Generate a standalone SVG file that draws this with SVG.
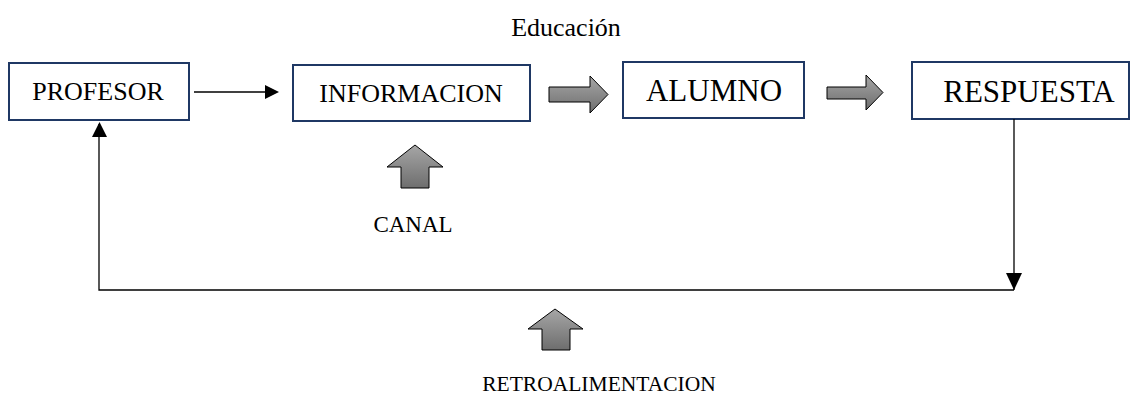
<svg xmlns="http://www.w3.org/2000/svg" width="1131" height="397" viewBox="0 0 1131 397">
<style>
.box{fill:#fff;stroke:#1f3864;stroke-width:2}
.t{font-family:"Liberation Serif","Times New Roman",serif;fill:#000;text-anchor:middle}
.ln{stroke:#000;stroke-width:1.3;fill:none}
.blk{fill:url(#g);stroke:#000;stroke-width:1}
</style>
<defs>
<linearGradient id="g" x1="0" y1="0" x2="0" y2="1">
<stop offset="0" stop-color="#a6a6a6"/>
<stop offset="1" stop-color="#6e6e6e"/>
</linearGradient>
</defs>
<text class="t" x="566" y="36" font-size="26">Educación</text>
<g id="profesor">
<rect class="box" x="9" y="63" width="180" height="57"/>
<text class="t" x="98" y="100" font-size="26">PROFESOR</text>
</g>
<g id="informacion">
<rect class="box" x="293" y="65" width="237" height="56"/>
<text class="t" x="411" y="102" font-size="26">INFORMACION</text>
</g>
<g id="alumno">
<rect class="box" x="623" y="62" width="181" height="56"/>
<text class="t" x="714" y="101" font-size="31">ALUMNO</text>
</g>
<g id="respuesta">
<rect class="box" x="912" y="62" width="217" height="57"/>
<text class="t" x="1029" y="102" font-size="31">RESPUESTA</text>
</g>
<g id="canal">
<path class="blk" d="M415,145 L443,167 L429,167 L429,188 L401,188 L401,167 L387,167 Z"/>
<text class="t" x="413" y="232" font-size="23">CANAL</text>
</g>
<g id="retroalimentacion">
<path class="blk" d="M555,309 L583,329 L570,329 L570,350 L542,350 L542,329 L528,329 Z"/>
<text class="t" x="599" y="391" font-size="21.5">RETROALIMENTACION</text>
</g>
<g id="connectors">
<line class="ln" x1="194" y1="92" x2="266" y2="92"/>
<path d="M265,85 L279,92 L265,99 Z" fill="#000"/>
<path class="blk" d="M549,87 L590,87 L590,76 L608,94.5 L590,113 L590,102 L549,102 Z"/>
<path class="blk" d="M827,87 L866,87 L866,75 L883,92.5 L866,110 L866,99 L827,99 Z"/>
<polyline class="ln" points="1014,119 1014,290"/>
<polyline class="ln" points="1014,290 99,290 99,124"/>
<path d="M1006,273 L1022,273 L1014,290 Z" fill="#000"/>
<path d="M92,137 L107,137 L99.5,122 Z" fill="#000"/>
</g>
</svg>
